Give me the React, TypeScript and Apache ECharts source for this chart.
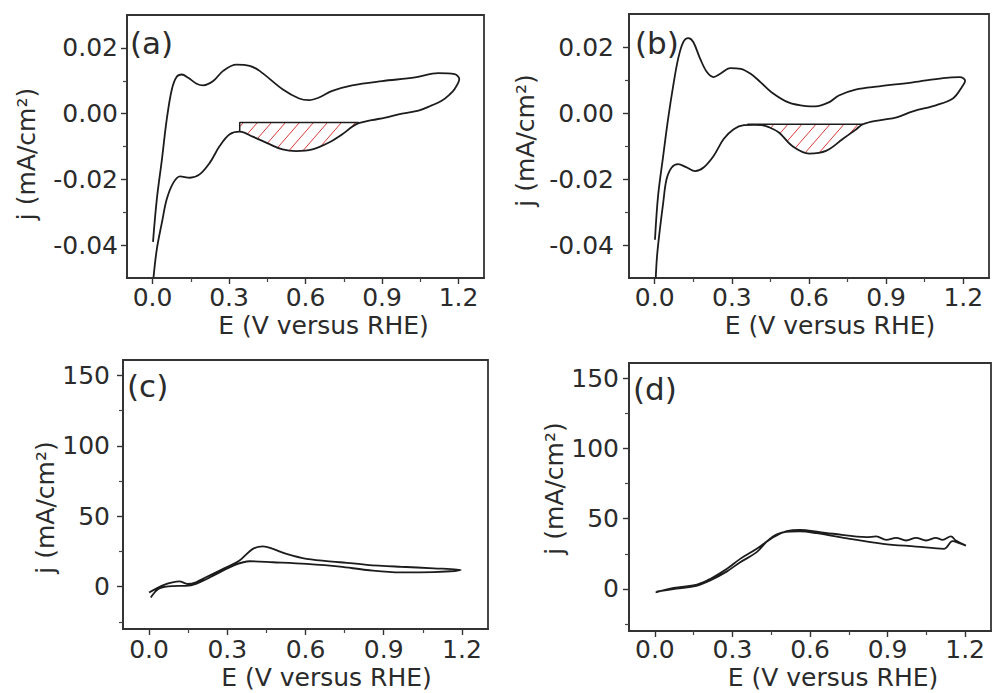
import { useEffect, useRef } from "react";
import * as echarts from "echarts";

const FONT = "DejaVu Sans";
const INK = "#2b2b2b";
const CURVE = "#1c1c1c";
const HATCH = "#d93a3a";

// ---- axis ticks ----
const xTicks = [0, 0.3, 0.6, 0.9, 1.2];
const xMinorTicks = [0.15, 0.45, 0.75, 1.05];
const yTicksSmall = [-0.04, -0.02, 0, 0.02];
const yMinorTicksSmall = [-0.03, -0.01, 0.01];
const yTicksLarge = [0, 50, 100, 150];
const yMinorTicksLarge = [-25, 25, 75, 125];

// ---- panel (a) : [E (V), j (mA/cm2)] ----
const anodicA = [
  [0.002, -0.039], [0.017, -0.026], [0.037, -0.0139], [0.056, -0.0017], [0.076, 0.0074],
  [0.095, 0.0112], [0.115, 0.0119], [0.14, 0.0109], [0.173, 0.0091], [0.199, 0.0086],
  [0.238, 0.0099], [0.277, 0.013], [0.329, 0.0149], [0.381, 0.0145], [0.42, 0.013],
  [0.51, 0.0074], [0.575, 0.0046], [0.614, 0.0041], [0.653, 0.0049], [0.705, 0.0069],
  [0.783, 0.0086], [0.9, 0.0099], [1.03, 0.011], [1.12, 0.0123], [1.185, 0.012], [1.203, 0.0105],
];
const cathodicA = [
  [1.203, 0.0105], [1.185, 0.0075], [1.165, 0.0058], [1.134, 0.0039], [1.095, 0.0025],
  [1.043, 0.0009], [0.965, -0.0002], [0.913, -0.0012], [0.86, -0.002], [0.809, -0.0029],
  [0.783, -0.004], [0.744, -0.0063], [0.692, -0.0088], [0.627, -0.0109], [0.563, -0.0114],
  [0.51, -0.0109], [0.459, -0.0093], [0.393, -0.007], [0.342, -0.0055], [0.303, -0.0063],
  [0.264, -0.0098], [0.225, -0.0149], [0.186, -0.0184], [0.147, -0.0195], [0.108, -0.0191],
  [0.082, -0.021], [0.056, -0.026], [0.037, -0.0331], [0.017, -0.0412], [0.004, -0.0498],
];
const hatchRangeA = [0.342, 0.809];
const hatchBaseA = -0.0027;

// ---- panel (b) ----
const anodicB = [
  [0.001, -0.0384], [0.013, -0.0252], [0.033, -0.013], [0.052, -0.0018], [0.072, 0.0083],
  [0.091, 0.0164], [0.111, 0.0215], [0.131, 0.0227], [0.15, 0.0215], [0.177, 0.0164],
  [0.203, 0.0124], [0.229, 0.0109], [0.255, 0.0119], [0.294, 0.0136], [0.334, 0.0134],
  [0.373, 0.0119], [0.412, 0.0093], [0.454, 0.0063], [0.52, 0.0032], [0.588, 0.0021],
  [0.625, 0.002], [0.679, 0.0033], [0.716, 0.0053], [0.781, 0.0071], [0.873, 0.0081],
  [1.004, 0.0093], [1.122, 0.0106], [1.187, 0.0109], [1.207, 0.0098],
];
const cathodicB = [
  [1.207, 0.0098], [1.194, 0.0078], [1.161, 0.0045], [1.096, 0.0024], [1.004, 0.0005],
  [0.941, -0.0013], [0.873, -0.0022], [0.81, -0.0034], [0.784, -0.0049], [0.731, -0.0079],
  [0.666, -0.0115], [0.601, -0.0123], [0.535, -0.01], [0.483, -0.0059], [0.441, -0.0042],
  [0.417, -0.0037], [0.389, -0.0036], [0.347, -0.0037], [0.307, -0.0049], [0.268, -0.0079],
  [0.229, -0.013], [0.19, -0.0165], [0.157, -0.0176], [0.124, -0.0165], [0.091, -0.0155],
  [0.066, -0.0165], [0.046, -0.0201], [0.033, -0.0272], [0.02, -0.0353], [0.009, -0.0434],
  [0.004, -0.05],
];
const hatchRangeB = [0.4, 0.81];
const hatchBaseB = -0.0034;
const hatchLineStartB = 0.36;

// ---- panel (c) ----
const forwardC = [
  [0.0, -4.1], [0.026, -1.5], [0.06, 1.5], [0.09, 3.1], [0.116, 3.8], [0.148, 2.0],
  [0.18, 3.2], [0.218, 6.7], [0.296, 13.8], [0.347, 18.6], [0.398, 26.9], [0.437, 28.6],
  [0.475, 26.9], [0.527, 23.3], [0.604, 19.8], [0.732, 17.4], [0.835, 15.6], [0.964, 14.2],
  [1.092, 13.1], [1.195, 11.9],
];
const backwardC = [
  [1.195, 11.9], [1.092, 10.4], [0.964, 10.2], [0.835, 11.9], [0.732, 14.3], [0.604, 16.2],
  [0.475, 17.4], [0.386, 18.1], [0.33, 15.5], [0.244, 7.6], [0.18, 2.0], [0.141, 0.6],
  [0.09, 0.5], [0.039, -1.2], [0.0065, -7.6],
];

// ---- panel (d) ----
const forwardD = [
  [0.003, -2.4], [0.073, 0.7], [0.163, 3.1], [0.214, 7.1], [0.279, 14.3], [0.33, 21.4],
  [0.394, 28.6], [0.458, 36.9], [0.51, 41.1], [0.561, 42.1], [0.638, 40.4], [0.689, 39.3],
  [0.818, 36.9], [0.856, 37.4], [0.895, 35.0], [0.933, 36.4], [0.972, 34.5], [1.01, 36.4],
  [1.049, 34.5], [1.087, 36.4], [1.113, 35.0], [1.145, 37.4], [1.164, 34.5], [1.203, 30.9],
];
const backwardD = [
  [1.203, 30.9], [1.177, 32.6], [1.151, 34.0], [1.119, 28.6], [1.01, 30.2], [0.882, 32.1],
  [0.754, 35.7], [0.625, 39.7], [0.561, 41.0], [0.494, 40.2], [0.443, 35.5], [0.394, 26.2],
  [0.33, 19.0], [0.279, 12.5], [0.212, 5.8], [0.16, 2.1], [0.083, 0.2], [0.006, -1.9],
];

const xName = "E (V versus RHE)";
const yName = "j (mA/cm²)";

// interpolate j on a branch whose E is monotone
function interp(curve: number[][], e: number): number {
  for (let i = 0; i < curve.length - 1; i++) {
    const a = curve[i], b = curve[i + 1];
    if ((a[0] - e) * (b[0] - e) <= 0 && a[0] !== b[0]) {
      const t = (e - a[0]) / (b[0] - a[0]);
      return a[1] + t * (b[1] - a[1]);
    }
  }
  return curve[curve.length - 1][1];
}

function hatchPolygon(curve: number[][], range: number[], base: number): number[][] {
  const [from, to] = range;
  const pts: number[][] = [[from, base], [to, base], [to, interp(curve, to)]];
  curve.forEach((p) => {
    if (p[0] < to && p[0] > from) pts.push(p);
  });
  pts.push([from, interp(curve, from)]);
  return pts;
}

function hatchLines(poly: number[][], spacing: number, k: number): number[][] {
  const vals = poly.map((p) => k * p[0] + p[1]);
  const cMin = Math.min(...vals), cMax = Math.max(...vals);
  const step = spacing * k;
  const out: number[][] = [];
  for (let c = Math.ceil(cMin / step) * step; c <= cMax; c += step) {
    const hits: number[][] = [];
    for (let i = 0; i < poly.length; i++) {
      const p = poly[i], q = poly[(i + 1) % poly.length];
      const f1 = k * p[0] + p[1] - c, f2 = k * q[0] + q[1] - c;
      if ((f1 < 0) !== (f2 < 0)) {
        const t = f1 / (f1 - f2);
        hits.push([p[0] + t * (q[0] - p[0]), p[1] + t * (q[1] - p[1])]);
      }
    }
    hits.sort((a, b) => a[0] - b[0]);
    for (let i = 0; i + 1 < hits.length; i += 2) {
      out.push([hits[i][0], hits[i][1], hits[i + 1][0], hits[i + 1][1]]);
    }
  }
  return out;
}

type Panel = {
  grid: { left: number; top: number; width: number; height: number };
  yMin: number; yMax: number; yTicks: number[]; yMinor: number[]; yDec: number;
  yMargin: number; yNameGap: number; yNamePad: number[];
  xMargin: number; xNameGap: number; xNamePad: number[];
  curve: number[][];
  label: string; labelPos: number[];
  hatch?: { curve: number[][]; range: number[]; base: number; outline: number[][] };
};

const panels: Panel[] = [
  {
    grid: { left: 127, top: 15, width: 357, height: 263 },
    yMin: -0.05, yMax: 0.03, yTicks: yTicksSmall, yMinor: yMinorTicksSmall, yDec: 2,
    yMargin: 9, yNameGap: 91, yNamePad: [0, 15, 0, 0],
    xMargin: 9, xNameGap: 37, xNamePad: [0, 0, 0, 36],
    curve: anodicA.concat(cathodicA.slice(1)),
    label: "(a)", labelPos: [130, 27],
    hatch: {
      curve: cathodicA, range: hatchRangeA, base: hatchBaseA,
      outline: [
        [hatchRangeA[0], interp(cathodicA, hatchRangeA[0])],
        [hatchRangeA[0], hatchBaseA],
        [hatchRangeA[1], hatchBaseA],
      ],
    },
  },
  {
    grid: { left: 629, top: 14, width: 360, height: 264 },
    yMin: -0.05, yMax: 0.03, yTicks: yTicksSmall, yMinor: yMinorTicksSmall, yDec: 2,
    yMargin: 15, yNameGap: 94, yNamePad: [0, 0, 0, 11],
    xMargin: 9, xNameGap: 37, xNamePad: [0, 0, 0, 42],
    curve: anodicB.concat(cathodicB.slice(1)),
    label: "(b)", labelPos: [635, 27],
    hatch: {
      curve: cathodicB, range: hatchRangeB, base: hatchBaseB,
      outline: [[hatchLineStartB, hatchBaseB], [hatchRangeB[1], hatchBaseB]],
    },
  },
  {
    grid: { left: 123, top: 360, width: 365, height: 269 },
    yMin: -30, yMax: 161, yTicks: yTicksLarge, yMinor: yMinorTicksLarge, yDec: 0,
    yMargin: 13, yNameGap: 53, yNamePad: [0, 26, 0, 0],
    xMargin: 10, xNameGap: 38, xNamePad: [0, 0, 0, 42],
    curve: forwardC.concat(backwardC.slice(1)),
    label: "(c)", labelPos: [127, 370],
  },
  {
    grid: { left: 629, top: 363, width: 362, height: 268 },
    yMin: -30, yMax: 161, yTicks: yTicksLarge, yMinor: yMinorTicksLarge, yDec: 0,
    yMargin: 10, yNameGap: 58, yNamePad: [0, 0, 0, 17],
    xMargin: 8, xNameGap: 36, xNamePad: [0, 0, 0, 46],
    curve: forwardD.concat(backwardD.slice(1)),
    label: "(d)", labelPos: [633, 373],
  },
];

function buildOption() {
  const grid: any[] = [];
  const xAxis: any[] = [];
  const yAxis: any[] = [];
  const series: any[] = [];
  const graphic: any[] = [];
  const textBase = { fontFamily: FONT, fontSize: 25, color: INK, lineHeight: 20 };

  panels.forEach((p, i) => {
    grid.push({
      ...p.grid, show: true, borderColor: "#333", borderWidth: 1.8,
      backgroundColor: "transparent", containLabel: false, outerBoundsMode: "none",
    });
    xAxis.push({
      type: "value", gridIndex: i, position: "bottom", min: -0.1, max: 1.3,
      axisLine: { show: true, onZero: false, lineStyle: { color: "#333", width: 1.8 } },
      axisTick: { show: true, inside: false, length: 6, customValues: xTicks, lineStyle: { color: "#333", width: 1.4 } },
      axisLabel: { show: true, customValues: xTicks, margin: p.xMargin, formatter: (v: number) => v.toFixed(1), ...textBase },
      splitLine: { show: false },
      name: xName, nameLocation: "middle", nameGap: p.xNameGap,
      nameTextStyle: { ...textBase, padding: p.xNamePad },
    });
    xAxis.push({
      type: "value", gridIndex: i, position: "bottom", min: -0.1, max: 1.3,
      axisLine: { show: false, onZero: false },
      axisTick: { show: true, inside: false, length: 4, customValues: xMinorTicks, lineStyle: { color: "#444", width: 1.2 } },
      axisLabel: { show: false },
      splitLine: { show: false },
    });
    yAxis.push({
      type: "value", gridIndex: i, position: "left", min: p.yMin, max: p.yMax,
      axisLine: { show: true, onZero: false, lineStyle: { color: "#333", width: 1.8 } },
      axisTick: { show: true, inside: false, length: 6, customValues: p.yTicks, lineStyle: { color: "#333", width: 1.4 } },
      axisLabel: { show: true, customValues: p.yTicks, margin: p.yMargin, formatter: (v: number) => v.toFixed(p.yDec), ...textBase },
      splitLine: { show: false },
      name: yName, nameLocation: "middle", nameRotate: 90, nameGap: p.yNameGap,
      nameTextStyle: { ...textBase, padding: p.yNamePad },
    });
    yAxis.push({
      type: "value", gridIndex: i, position: "left", min: p.yMin, max: p.yMax,
      axisLine: { show: false, onZero: false },
      axisTick: { show: true, inside: false, length: 4, customValues: p.yMinor, lineStyle: { color: "#444", width: 1.2 } },
      axisLabel: { show: false },
      splitLine: { show: false },
    });

    if (p.hatch) {
      const h = p.hatch;
      const poly = hatchPolygon(h.curve, h.range, h.base);
      series.push({
        type: "custom", xAxisIndex: 2 * i, yAxisIndex: 2 * i, silent: true, clip: true, z: 1,
        data: [[h.range[0], h.base]],
        renderItem: (_params: any, api: any) => {
          const px = poly.map((pt) => api.coord(pt));
          const segs = hatchLines(px, 14, 1.15);
          return {
            type: "group",
            children: segs.map((s) => ({
              type: "line",
              shape: { x1: s[0], y1: s[1], x2: s[2], y2: s[3] },
              style: { stroke: HATCH, lineWidth: 1 },
            })),
          };
        },
      });
      series.push({
        type: "line", xAxisIndex: 2 * i, yAxisIndex: 2 * i, data: h.outline,
        symbol: "none", smooth: false, z: 2,
        lineStyle: { color: CURVE, width: 1.5 },
      });
    }
    series.push({
      type: "line", xAxisIndex: 2 * i, yAxisIndex: 2 * i, data: p.curve,
      symbol: "none", smooth: 0.35, clip: true, z: 3,
      lineStyle: { color: CURVE, width: 1.8 },
    });
    graphic.push({
      type: "text", x: p.labelPos[0], y: p.labelPos[1],
      style: { text: p.label, fontFamily: FONT, fontSize: 31, fill: INK, verticalAlign: "top", align: "left" },
    });
  });

  return { animation: false, backgroundColor: "#ffffff", grid, xAxis, yAxis, series, graphic };
}

export default function App() {
  const ref = useRef<HTMLDivElement>(null);
  useEffect(() => {
    if (!ref.current) return;
    const chart = echarts.init(ref.current, undefined, { renderer: "svg" });
    chart.setOption(buildOption() as any);
    return () => chart.dispose();
  }, []);
  return (
    <div
      ref={ref}
      style={{ position: "fixed", left: 0, top: 0, width: 992, height: 693, background: "#fff" }}
    />
  );
}
